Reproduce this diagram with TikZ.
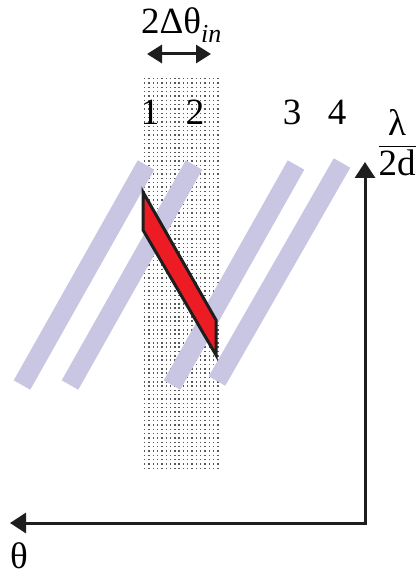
\documentclass[tikz,border=0pt]{standalone}
\usepackage{amsmath}
\usepackage{fontspec}
\setmainfont{Liberation Serif}
\usetikzlibrary{arrows.meta}
\definecolor{stripecolor}{RGB}{200,198,226}
\definecolor{spotred}{RGB}{237,28,36}
\definecolor{linegray}{RGB}{30,30,30}
\tikzset{
  axis/.style={-{Triangle[length=16pt,width=20pt]}, line width=3pt, draw=linegray},
  widtharrow/.style={{Triangle[length=15pt,width=18pt]}-{Triangle[length=15pt,width=18pt]}, line width=3pt, draw=linegray},
  stripe/.style={draw=stripecolor, line width=19pt, line cap=butt},
  spot/.style={fill=spotred, draw=linegray, line width=3pt, line join=miter},
  dotcell/.style={fill=black!65},
  biglabel/.style={font=\fontsize{37}{44}\selectfont, inner sep=0pt, anchor=base}
}
\begin{document}
\begin{tikzpicture}[x=1pt,y=-1pt]
\useasboundingbox (0,0) rectangle (419,577);

%--------------------------------------------------
% Dotted acceptance band
%--------------------------------------------------
\foreach \i in {0,...,17}{
  \foreach \j in {0,...,90}{
    \fill[dotcell] ({144+4.3*\i},{78+4.33*\j}) rectangle ++(1.4,1.4);
  }
}

%--------------------------------------------------
% Reflection stripes 1--4
%--------------------------------------------------
\draw[stripe] (146,165) -- (22,385);
\draw[stripe] (194,165) -- (70,385);
\draw[stripe] (296,165) -- (172,385);
\draw[stripe] (342,163) -- (217,381);

% selected region
\draw[spot] (143,192) -- (143,230) -- (216,355) -- (216,320) -- cycle;

%--------------------------------------------------
% Labels on top
%--------------------------------------------------
\node[biglabel, anchor=base west] (width) at (141,34)
{2Δθ\textsubscript{\textit{in}}};
\coordinate (wleft)  at (147,54);
\coordinate (wright) at (211,54);
\draw[widtharrow] (wleft) -- (wright);

\node[biglabel] (one)   at (150,125) {1};
\node[biglabel] (two)   at (195,125) {2};
\node[biglabel] (three) at (292,125) {3};
\node[biglabel] (four)  at (337,125) {4};

%--------------------------------------------------
% Axes
%--------------------------------------------------
\coordinate (origin)  at (365,523);
\coordinate (lamtip)  at (365,162);
\coordinate (thetip)  at (10,523);
\draw[axis] (origin) -- (lamtip);
\draw[axis] ([xshift=1.5pt]origin) -- (thetip);

\node[biglabel] (theta) at (19,568) {θ};
\node[font=\fontsize{37}{44}\selectfont, inner sep=0pt] (lambda) at (397,143)
{$\dfrac{\text{λ}}{\text{2d}}$};

\end{tikzpicture}
\end{document}
